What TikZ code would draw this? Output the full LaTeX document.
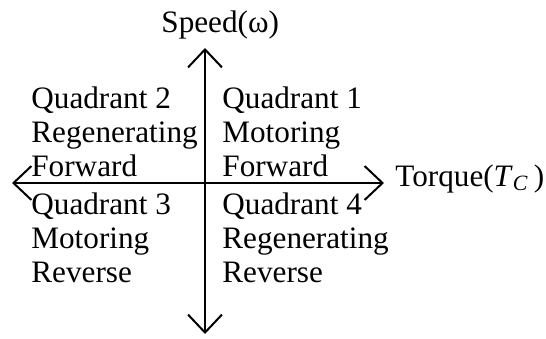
\documentclass[tikz,border=0pt]{standalone}
\usepackage{fontspec}
\setmainfont{Liberation Serif}
\usetikzlibrary{arrows.meta}

\begin{document}
\begin{tikzpicture}[x=0.5pt, y=-0.5pt,
        quad/.style={anchor=base west, align=left, inner sep=0pt,
            font=\fontsize{15.6}{17}\selectfont},
        axis/.style={line width=1pt, {Straight Barb[length=9pt, width=17pt]}-{Straight Barb[length=9pt, width=17pt]}}]
        \useasboundingbox (0, 0) rectangle (546, 338);

        \coordinate (top) at (205, 48);
        \coordinate (bottom) at (205, 334);
        \coordinate (left) at (12, 183);
        \coordinate (right) at (384, 183);

        \node[quad] (speed) at (161, 32) {Speed(ω)};
        \node[quad] (torque) at (395, 186) {Torque(\textit{T}\textsubscript{\textit{C}}\,)};

        \node[quad] (q2) at (31, 176) {Quadrant 2\\Regenerating\\Forward};
        \node[quad] (q1) at (222, 176) {Quadrant 1\\Motoring\\Forward};
        \node[quad] (q3) at (31, 282) {Quadrant 3\\Motoring\\Reverse};
        \node[quad] (q4) at (222, 282) {Quadrant 4\\Regenerating\\Reverse};

        \draw[axis] (bottom) -- (top);
        \draw[axis] (left) -- (right);
    \end{tikzpicture}
\end{document}
